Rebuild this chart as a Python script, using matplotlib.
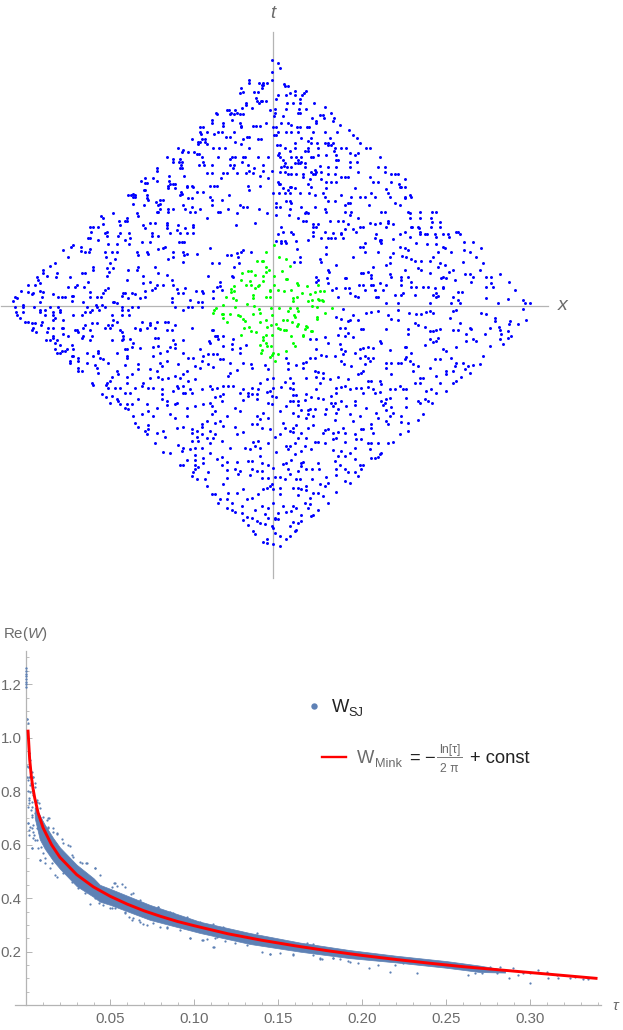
#!/usr/bin/env python3
"""Causal diamond sprinkling (top) and Re(W) against tau (bottom)"""

import numpy as np
import matplotlib
matplotlib.use('Agg')
import matplotlib.pyplot as plt

plt.rcParams['font.family'] = ['Liberation Sans', 'DejaVu Sans']
plt.rcParams['mathtext.fontset'] = 'custom'
plt.rcParams['mathtext.rm'] = 'Liberation Sans'
plt.rcParams['mathtext.it'] = 'Liberation Sans:italic'

W_PX, H_PX = 623, 1030
GRAY_AXIS = '#b4b4b4'
GRAY_TEXT = '#6b6b6b'
DOT_BLUE = '#5e81b5'

# Rows are (height, [positions along the row]), the rest are plain (x, y) pairs.
ul_rows = [(30, [787]), (65, [787]), (90, [718, 787]), (100, [716, 748, 758, 772]), (105, [760, 755]),
           (115, [692, 755]), (125, [698, 732, 743]), (130, [690]), (143, [738]), (152, [742, 752, 755, 767]),
           (160, [708, 748]), (165, [708]), (175, [695, 725]), (180, [650, 658, 675, 780]), (188, [618, 662, 680]),
           (193, [620, 660, 672, 690, 700]), (210, [605, 665]), (218, [605, 690, 768, 640]),
           (228, [640, 692, 728, 738, 750]), (232, [570, 580, 692]), (245, [590, 570, 625, 637, 672]),
           (252, [573, 612]), (262, [648, 660, 718, 712]), (268, [545, 575, 585, 700, 745, 752]),
           (275, [565, 570, 585, 675]), (283, [565, 590, 692]), (295, [505, 610, 628, 645, 718]), (300, [520]),
           (307, [515, 533, 552]), (313, [560, 568]), (320, [470, 575, 625, 665, 675, 700, 705, 745, 775]),
           (327, [488, 510, 660]), (335, [490, 508, 515, 578, 695]), (345, [512, 568, 582, 605, 660, 672, 715, 760]),
           (353, [442, 510, 515, 668, 732]), (363, [440, 718, 760, 785]), (370, [592, 605, 640, 650, 680, 708, 728]),
           (378, [478, 522, 750]), (383, [428, 405, 632, 775]), (392, [392, 442, 478]), (398, [405, 412]),
           (402, [480, 490, 495]), (408, [475, 530, 545, 600, 613, 620, 715, 750]), (412, [530, 548]),
           (415, [475, 495]), (420, [405, 402, 718]), (425, [512, 562, 580]), (432, [515, 370]),
           (435, [362, 355, 375, 410, 510, 658]), (440, [368, 375, 600]), (445, [410, 535, 545]),
           (450, [415, 460, 450, 605, 635]), (455, [438]), (462, [368, 450]), (465, [402, 445, 520, 605, 690]),
           (470, [545, 700, 710]), (478, [450, 490, 475, 525, 570, 655, 748]),
           (485, [440, 445, 475, 555, 540, 630, 625]), (490, [380, 310, 680, 770]), (497, [272, 385]),
           (505, [278, 350, 590]), (512, [345, 350, 328]), (518, [435, 470, 420, 735]), (522, [280]),
           (525, [398, 330, 470, 505, 548, 678]), (530, [250, 265, 240, 550]), (535, [470, 525, 405]), (540, [500]),
           (545, [242, 290]), (550, [285, 330, 358, 425, 480, 510, 530, 550]), (558, [290, 325, 445, 427]),
           (565, [235, 240, 360]), (570, [265, 345]), (575, [395, 420, 508, 515, 522]), (583, [295, 320, 358]),
           (585, [190]), (590, [182, 213, 465]), (595, [460, 600]), (597, [443]), (598, [240]), (600, [700, 160]),
           (603, [212]), (605, [322, 410, 520, 722]), (607, [225, 238, 285, 305, 382, 490, 692]), (610, [680]),
           (612, [415, 530, 560]), (615, [383, 522, 652, 662]), (620, [490, 685]), (622, [175, 288]),
           (628, [315, 475]), (635, [518]), (638, [300, 628, 688]), (640, [135, 605]), (647, [120]),
           (650, [250, 385, 435, 672]), (655, [290, 310]), (660, [98, 250, 355, 380]), (665, [297]),
           (668, [100, 140, 215, 225, 445]), (675, [470]), (678, [112, 290, 398, 593, 665]),
           (680, [80, 138, 180, 668]), (690, [85, 350, 485]), (695, [235, 420, 630]), (698, [90]), (700, [398]),
           (705, [55, 75, 200, 440, 458, 490]), (708, [630]), (710, [175, 222]), (712, [195, 620]),
           (715, [295, 435, 525]), (718, [500]), (720, [285, 425, 635]), (722, [33, 90, 405, 558, 575, 610]),
           (727, [55, 100, 240]), (728, [278, 580]), (730, [70, 345, 365, 505, 520, 340]), (733, [65, 130, 375]),
           (738, [185, 190, 335]), (740, [15, 240, 260]), (742, [95, 145, 155, 165, 272, 405]),
           (745, [20, 355, 390, 485, 610]), (750, [540]), (752, [8, 185]), (755, [90, 220, 312, 565, 575, 310]),
           (757, [485]), (760, [320]), (765, [40, 258, 275])]

ur_rows = [(40, [14]), (55, [22]), (103, [32]), (108, [35, 45]), (122, [66, 100]), (128, [50, 92]),
           (135, [15, 40, 65, 88]), (148, [10, 82]), (158, [42, 60, 80]), (160, [122]), (170, [155]),
           (178, [6, 38, 78, 100]), (190, [173, 5, 75, 82]), (197, [4, 30]), (195, [140, 150]),
           (205, [118, 182, 152]), (212, [128, 180]), (218, [130, 45, 25]), (225, [55, 200]),
           (232, [0, 10, 72, 80, 102, 108]), (240, [228]), (245, [15, 38, 55, 75, 120, 157, 192]),
           (255, [8, 4, 240]), (265, [85, 252, 115, 172]), (272, [105]), (278, [65, 115, 132, 155, 165, 180, 260]),
           (285, [20, 12, 165, 175]), (295, [35, 67, 105, 135, 205, 185, 220, 292, 280]), (302, [50, 95, 105, 183]),
           (308, [17, 232, 255]), (315, [15, 135, 160, 190, 245]), (322, [20, 55, 70, 85, 115, 120, 320]),
           (330, [30, 75, 195, 190]), (335, [85, 252, 232]), (340, [35, 65, 75, 80, 95]), (348, [32, 140]),
           (352, [25, 42, 55, 97, 165, 190, 232, 315, 335]), (360, [125]), (365, [20, 35, 115, 130, 145, 255, 335]),
           (372, [45, 55, 70, 90, 120, 125, 185, 165, 355, 365, 375]), (382, [90, 205, 215, 225, 290]),
           (388, [110, 145, 395]), (395, [15, 160, 175, 190, 300, 315, 355]), (402, [20, 105, 18, 378]),
           (410, [50, 55, 115, 380, 385, 395]), (415, [30, 65, 160, 245]), (418, [340]), (420, [45]),
           (430, [0, 18, 35, 50, 80, 108, 150, 295, 345]), (435, [125, 205, 410]),
           (440, [155, 235, 260, 275, 305, 350, 395, 415]), (445, [395]), (452, [40, 50, 165, 185]),
           (460, [10, 55, 225, 232, 365]), (465, [215, 288, 380]), (470, [20, 10, 85, 125]), (478, [50, 155]),
           (485, [100, 160, 215, 235, 325, 335, 405, 440, 478, 490]), (490, [95, 105, 412]), (495, [48, 10, 232]),
           (505, [75, 255, 410, 440, 475]), (512, [90, 100, 170, 195, 210, 345]), (515, [478, 500]),
           (520, [292, 320, 345]), (522, [120, 135, 225, 360, 305]), (530, [25, 120, 130, 340, 415, 435]),
           (532, [260, 270, 418, 475, 500]), (535, [438]), (538, [215, 240]),
           (545, [30, 55, 120, 155, 250, 395, 440, 550, 555]), (548, [205, 180]),
           (552, [15, 60, 205, 310, 380, 462, 440, 455, 485, 510, 525, 560]), (558, [120]),
           (560, [410, 490, 528]), (565, [145, 165, 175, 185, 305, 210]), (568, [360]), (570, [105, 320, 325]),
           (572, [8, 25, 35, 70, 320]), (575, [572, 600]), (580, [25, 38, 428, 275, 325]), (583, [462, 490]),
           (590, [158, 260, 270, 380, 510]), (595, [395, 515, 625]), (598, [72]), (600, [405, 572]),
           (605, [275, 315, 495, 535, 590]), (610, [360]), (612, [160]), (618, [388]),
           (622, [82, 240, 350, 400, 480, 610]), (628, [415, 140]), (632, [425, 470, 445]),
           (635, [62, 80, 145, 570]), (640, [350, 630, 500]), (645, [340, 515, 190]), (650, [300, 495]),
           (655, [435]), (660, [395, 445, 620, 540, 165]), (665, [285, 528, 168]), (670, [265, 270, 470]),
           (672, [575, 590, 680, 350]), (675, [295]), (680, [355, 385, 405, 130, 600, 638, 655, 510]),
           (685, [295, 162, 215, 220, 520, 505]), (690, [135, 545, 385]), (695, [128, 595, 708, 415]),
           (700, [655, 165, 320]), (705, [258, 270, 295, 300, 340, 385]), (710, [660, 640, 430, 450, 465]),
           (712, [415, 510]), (715, [510, 188, 215, 228, 485]), (720, [725, 178, 275, 305, 330]),
           (725, [568, 555]), (730, [390, 230, 490]), (735, [480, 425, 365, 385]), (738, [495, 245]),
           (740, [255, 315, 195, 490, 540, 310]), (745, [640]), (748, [705]), (750, [750, 555]),
           (758, [755, 675, 535]), (760, [770, 470, 340, 375, 560])]

ll_rows = [(3, [15, 40, 72, 120, 145, 230, 262, 285, 335, 365, 385, 495, 535, 545, 575]),
           (12, [90, 105, 150, 245, 268, 335, 355, 520]), (18, [18, 38, 90, 130, 150, 225, 240]),
           (28, [22, 105, 130, 188, 215, 305, 335, 358]), (35, [135, 30]), (42, [130, 160, 310]),
           (48, [45, 55, 95, 320, 395, 440, 465, 475]), (52, [65, 75, 245, 260, 420]),
           (58, [92, 225, 295, 305, 420, 495]), (65, [70, 115, 130, 155, 160, 220, 285, 300, 375, 410, 435, 545]),
           (72, [65, 195, 200, 240, 330, 390, 485, 470, 605, 610]), (78, [78, 110, 205, 335]), (85, [160]),
           (90, [130, 175, 220, 245, 340, 615, 620]), (97, [130, 215, 445, 435]), (100, [360]),
           (103, [108, 120, 140, 305, 335, 240, 490, 518]), (110, [135, 370]), (117, [150, 185]),
           (122, [365, 430, 480]), (128, [135, 170, 190, 345, 350, 665]), (135, [155, 165, 265]),
           (142, [140, 150, 265, 232, 320]), (150, [185, 190, 250, 350, 430]), (155, [205, 270]), (160, [280]),
           (165, [180, 205]), (172, [180, 232, 295]), (178, [255, 345]), (185, [205, 260]), (188, [385]),
           (195, [205, 215, 320]), (200, [265]), (205, [325, 365]), (212, [305, 350]), (225, [300]),
           (230, [245, 290, 350]), (238, [250, 288]), (245, [295, 315, 330])]
ll_pairs = [(340, 100), (390, 70), (445, 120), (495, 125), (390, 125), (350, 155), (450, 142), (470, 135), (520, 140),
            (535, 155), (550, 155), (570, 130), (580, 150), (595, 145), (610, 145), (620, 145), (630, 160), (640, 160),
            (640, 120), (597, 105), (600, 110), (495, 115), (625, 100), (620, 90), (640, 90), (670, 100), (665, 115),
            (690, 125), (708, 118), (690, 140), (660, 170), (595, 175), (610, 182), (575, 165), (555, 180), (570, 185),
            (450, 170), (455, 180), (470, 165), (505, 175), (520, 205), (510, 215), (530, 195), (535, 225), (555, 220),
            (495, 210), (475, 215), (440, 195), (420, 190), (420, 215), (445, 212), (455, 220), (385, 175), (400, 230),
            (415, 245), (395, 240), (430, 245), (375, 245), (455, 250), (455, 265), (455, 280), (500, 240), (505, 245),
            (490, 255), (520, 240), (540, 250), (545, 262), (575, 250), (600, 240), (605, 250), (620, 245), (640, 240),
            (655, 240), (670, 240), (655, 210), (660, 200), (680, 193), (700, 172), (722, 175), (725, 185), (765, 178),
            (775, 190), (770, 220), (750, 230), (745, 250), (725, 245), (715, 260), (700, 250), (690, 262), (740, 265),
            (770, 258), (780, 255), (785, 270), (775, 290), (785, 295), (725, 265), (715, 270), (740, 278), (305, 270),
            (320, 280), (325, 285), (300, 290), (330, 295), (345, 260), (360, 260), (385, 280), (350, 295), (365, 293),
            (410, 295), (440, 305), (470, 298), (495, 295), (500, 290), (530, 305), (555, 300), (580, 295), (600, 290),
            (605, 300), (615, 272), (630, 270), (640, 265), (635, 285), (520, 262), (525, 262), (470, 285), (480, 325),
            (495, 335), (530, 330), (395, 325), (430, 330), (415, 315), (370, 330), (345, 305), (355, 310), (275, 265),
            (288, 272), (375, 350), (385, 362), (415, 358), (415, 370), (405, 375), (410, 385), (440, 380), (460, 375),
            (465, 392), (435, 410), (458, 438), (480, 440), (505, 418), (518, 425), (515, 435), (500, 365), (520, 362),
            (545, 370), (575, 355), (575, 362), (560, 375), (575, 385), (545, 382), (560, 392), (545, 405), (565, 405),
            (590, 345), (615, 350), (630, 345), (650, 330), (615, 315), (605, 325), (675, 305), (690, 315), (700, 283),
            (740, 330), (760, 320), (750, 340), (775, 335), (725, 355), (742, 355), (780, 370), (755, 365), (700, 378),
            (675, 362), (680, 385), (640, 360), (600, 375), (615, 385), (610, 395), (590, 395), (635, 405), (600, 410),
            (575, 425), (600, 440), (555, 425), (540, 428), (660, 425), (705, 425), (730, 408), (745, 405), (735, 420),
            (775, 410), (750, 425), (720, 430), (555, 448), (530, 462), (555, 462), (580, 455), (580, 470), (510, 478),
            (520, 478), (555, 478), (565, 482), (555, 490), (550, 498), (545, 510), (560, 518), (595, 498), (585, 518),
            (590, 540), (620, 458), (635, 452), (650, 468), (680, 468), (635, 478), (650, 492), (675, 490), (690, 495),
            (685, 505), (650, 515), (715, 465), (725, 465), (750, 450), (755, 470), (775, 478), (725, 490), (740, 495),
            (755, 495), (720, 508), (775, 515), (785, 535), (760, 550), (755, 515), (700, 548), (680, 560), (655, 560),
            (640, 535), (605, 565), (615, 565), (630, 578), (625, 590), (650, 578), (665, 590), (650, 605), (665, 612),
            (675, 618), (695, 600), (710, 580), (725, 575), (745, 565), (770, 545), (780, 540), (755, 600), (775, 605),
            (735, 612), (695, 620), (710, 632), (725, 635), (765, 625), (775, 635), (700, 642), (740, 645), (715, 658),
            (750, 650), (765, 655), (785, 660), (730, 675), (735, 685), (770, 700), (760, 708), (772, 712)]

lr_pairs = [(210, 8), (190, 32), (205, 40), (230, 42), (240, 28), (225, 45), (280, 22), (295, 18), (315, 15), (345, 28),
            (355, 38), (375, 12), (375, 42), (408, 22), (430, 25), (445, 25), (460, 18), (470, 15), (480, 20), (530, 35),
            (540, 15), (550, 12), (560, 50), (625, 22), (640, 25), (665, 35), (665, 45), (710, 45), (708, 55), (735, 55),
            (760, 42), (750, 8), (200, 65), (215, 65), (225, 80), (255, 42), (265, 68), (270, 70), (340, 70), (405, 68),
            (425, 50), (435, 58), (455, 62), (470, 75), (480, 75), (490, 72), (500, 68), (540, 72), (555, 72), (590, 65),
            (595, 70), (650, 65), (678, 62), (680, 72), (685, 85), (705, 75), (715, 90), (705, 95), (680, 100), (690, 115),
            (635, 85), (580, 85), (600, 100), (610, 105), (580, 105), (470, 100), (480, 108), (490, 105), (495, 95),
            (405, 85), (320, 105), (325, 110), (195, 88), (215, 90), (240, 92), (165, 112), (155, 92), (130, 100), (110, 100),
            (200, 115), (205, 128), (215, 135), (210, 145), (205, 165), (212, 175), (245, 142), (260, 130), (270, 125),
            (285, 122), (300, 125), (260, 155), (275, 150), (285, 155), (290, 165), (300, 155), (350, 132), (395, 122),
            (400, 122), (455, 118), (415, 140), (400, 152), (395, 158), (375, 172), (340, 170), (355, 172), (340, 185),
            (355, 205), (385, 172), (410, 165), (420, 175), (435, 180), (420, 195), (485, 160), (500, 158), (510, 130),
            (520, 135), (550, 122), (535, 155), (550, 170), (545, 180), (570, 172), (585, 180), (600, 178), (620, 175),
            (590, 200), (575, 190), (630, 150), (650, 120), (520, 195), (520, 205), (540, 195), (565, 212), (540, 232),
            (550, 225), (488, 210), (470, 185), (275, 175), (270, 195), (265, 200), (255, 205), (235, 180), (185, 150),
            (160, 150), (145, 148), (130, 130), (125, 155), (110, 155), (100, 168), (90, 172), (90, 185), (70, 178), (45, 170),
            (45, 188), (38, 155), (135, 198), (150, 200), (130, 212), (150, 215), (125, 195), (100, 215), (172, 220), (195, 212),
            (225, 218), (50, 215), (35, 228), (0, 215), (25, 242), (60, 232), (50, 245), (60, 248), (140, 230), (130, 250),
            (100, 265), (115, 272), (135, 275), (150, 278), (175, 270), (190, 262), (190, 245), (205, 242), (215, 240), (232, 248),
            (250, 245), (265, 245), (270, 262), (285, 225), (295, 225), (285, 243), (300, 250), (320, 225), (325, 235), (305, 260),
            (320, 258), (350, 248), (365, 248), (380, 240), (390, 250), (400, 248), (440, 215), (450, 215), (425, 232), (440, 232),
            (460, 255), (475, 250), (490, 260), (500, 232), (520, 255), (350, 275), (340, 280), (325, 285), (335, 292), (400, 275),
            (435, 285), (440, 292), (455, 280), (465, 285), (478, 292), (0, 245), (8, 272), (60, 268), (70, 268), (50, 285),
            (60, 285), (75, 285), (95, 283), (75, 298), (40, 300), (175, 290), (185, 292), (180, 300), (205, 285), (220, 300),
            (245, 298), (245, 285), (195, 310), (190, 320), (160, 310), (155, 325), (125, 310), (105, 312), (110, 310), (105, 325),
            (100, 335), (85, 312), (60, 320), (75, 330), (22, 315), (120, 330), (185, 342), (260, 330), (230, 325), (240, 345),
            (280, 305), (310, 320), (330, 298), (355, 302), (340, 312), (360, 322), (350, 330), (385, 330), (400, 302), (385, 348),
            (405, 352), (450, 325), (435, 342), (340, 345), (345, 355), (315, 335), (295, 355), (295, 365), (265, 368), (300, 380),
            (270, 370), (210, 365), (245, 385), (215, 380), (195, 378), (180, 380), (155, 372), (165, 370), (150, 380), (120, 358),
            (105, 365), (30, 350), (35, 365), (60, 365), (70, 358), (50, 375), (60, 378), (20, 385), (5, 392), (85, 382), (100, 395),
            (75, 395), (65, 410), (50, 420), (40, 420), (125, 408), (135, 408), (155, 410), (180, 400), (190, 395), (215, 408),
            (250, 400), (265, 400), (285, 410), (295, 410), (315, 410), (345, 412), (360, 408), (380, 385), (405, 375), (95, 420),
            (85, 435), (65, 445), (45, 430), (10, 438), (115, 430), (180, 432), (205, 435), (195, 450), (230, 442), (245, 425),
            (215, 450), (245, 458), (295, 455), (305, 455), (320, 445), (325, 440), (315, 452), (290, 430), (55, 462), (40, 470),
            (30, 475), (85, 470), (90, 468), (185, 465), (190, 490), (200, 478), (215, 490), (225, 498), (245, 498), (260, 478),
            (270, 478), (265, 490), (255, 510), (0, 485), (45, 490), (85, 480), (100, 490), (118, 488), (138, 490), (135, 470),
            (75, 495), (5, 513), (20, 513), (35, 520), (50, 505), (70, 520), (80, 518), (118, 518), (158, 512), (190, 508),
            (215, 525), (232, 530), (165, 530), (140, 535), (155, 540), (190, 558), (60, 545), (75, 545), (100, 540), (85, 550),
            (100, 552), (120, 560), (135, 560), (150, 570), (75, 568), (22, 565), (0, 550), (22, 545), (110, 575), (165, 592),
            (30, 600), (70, 605), (95, 590), (110, 595), (105, 605), (135, 612), (0, 590), (60, 600), (15, 620), (40, 618),
            (55, 615), (85, 628), (115, 630), (120, 628), (15, 640), (5, 640), (50, 660), (60, 648), (75, 650), (85, 645),
            (65, 675), (70, 672), (0, 665), (5, 680), (20, 690), (38, 700), (50, 690), (0, 715), (22, 720), (5, 635)]

# green points near the centre
green_x = [282, 258, 297, 318, 230, 245, 250, 258, 268, 305, 330, 186, 205, 212, 258, 226, 250, 282, 318, 322,
           182, 210, 250, 198, 213, 238, 282, 352, 380, 415, 355, 152, 163, 225, 233, 270, 295, 312, 332, 152,
           163, 218, 270, 365, 390, 405, 420, 432, 138, 160, 168, 220, 258, 270, 340, 352, 385, 395, 415, 425,
           428, 418, 202, 222, 340, 108, 128, 165, 102, 98, 125, 130, 130, 150, 175, 180, 142, 190, 195, 238,
           240, 218, 272, 298, 275, 330, 352, 355, 325, 310, 320, 342, 345, 395, 412, 456, 410, 412, 435, 192,
           207, 213, 228, 258, 262, 240, 272, 288, 295, 300, 313, 318, 335, 355, 352, 378, 382, 375, 395, 368,
           370, 392, 182, 250, 250, 258, 275, 258, 260, 240, 332, 338, 345, 272, 245, 243, 280, 295, 275, 318,
           270, 285]
green_t = [75, 97, 113, 117, 125, 125, 125, 143, 150, 153, 140, 160, 155, 155, 157, 165, 170, 170, 177, 177,
           180, 185, 185, 197, 197, 197, 197, 190, 200, 197, 197, 208, 200, 205, 200, 210, 210, 215, 210, 216,
           215, 225, 213, 220, 222, 217, 215, 215, 233, 235, 242, 235, 232, 232, 235, 233, 243, 240, 238, 240,
           243, 242, 252, 258, 245, 265, 255, 262, 272, 280, 283, 283, 295, 283, 285, 290, 307, 297, 305, 268,
           280, 283, 265, 265, 287, 265, 265, 275, 275, 300, 300, 285, 292, 260, 263, 264, 292, 298, 280, 325,
           322, 335, 337, 300, 322, 308, 315, 312, 325, 328, 330, 332, 308, 312, 320, 320, 322, 328, 335, 345,
           350, 335, 347, 352, 360, 345, 345, 370, 378, 375, 350, 370, 380, 378, 390, 400, 400, 403, 405, 395,
           412, 425]

# dense band of the lower plot: upper and lower edge
band_tau = [0.005, 0.008, 0.011, 0.016, 0.02, 0.03, 0.04, 0.0438, 0.05, 0.0736, 0.1034, 0.133, 0.163, 0.1926, 0.22,
            0.25, 0.27, 0.285]
band_hi = [0.74, 0.71, 0.675, 0.625, 0.59, 0.525, 0.475, 0.45, 0.435, 0.375, 0.312, 0.27, 0.234, 0.206, 0.185,
           0.165, 0.148, 0.132]
band_lo = [0.70, 0.62, 0.585, 0.54, 0.51, 0.445, 0.405, 0.387, 0.375, 0.319, 0.27, 0.229, 0.2, 0.176, 0.16,
           0.14, 0.124, 0.122]

stray_a = [(82, 297), (84, 310), (88, 400), (90, 420), (85, 440), (95, 455), (100, 470), (88, 470), (92, 490), (85, 480),
           (98, 510), (105, 490), (90, 515), (100, 520), (88, 540), (95, 545), (110, 545), (118, 550), (85, 560), (92, 570),
           (105, 580), (95, 590), (115, 600), (85, 610), (100, 615), (88, 630), (90, 620), (102, 645), (100, 655), (95, 685),
           (110, 660), (122, 680), (128, 700), (120, 720), (135, 715), (150, 745), (165, 765), (170, 770), (190, 760),
           (215, 785), (235, 805), (255, 820), (270, 853), (285, 835), (298, 850), (335, 865), (375, 880), (395, 900),
           (420, 905), (440, 915), (500, 925), (570, 955), (640, 980), (608, 960), (650, 950), (810, 1003), (880, 1005),
           (960, 1015), (130, 640), (140, 600), (148, 595), (145, 625), (160, 625), (170, 640), (190, 670), (205, 675),
           (215, 705), (240, 725), (258, 730), (285, 745), (300, 765), (345, 790), (375, 800), (400, 820), (475, 860),
           (520, 880), (600, 905)]
stray_b = [(208, 865), (270, 875), (352, 878), (690, 910), (505, 885), (628, 893), (745, 893), (715, 870), (740, 875),
           (770, 885), (810, 893), (850, 897), (865, 897), (825, 890), (775, 893), (655, 885), (600, 860), (570, 862),
           (545, 880), (525, 880), (590, 880), (640, 865), (670, 880), (690, 880), (60, 838), (100, 835), (150, 845),
           (175, 848), (235, 855), (285, 855), (310, 850)]
stray_c = [(22, 57), (22, 197), (28, 160), (38, 232), (22, 232), (30, 255), (25, 272), (45, 262), (40, 285), (50, 300),
           (28, 295), (28, 310), (35, 320), (60, 325), (70, 350), (85, 355), (35, 345), (25, 370), (35, 385), (50, 385),
           (28, 405), (40, 395), (45, 420), (35, 445), (55, 445), (150, 437), (125, 418), (110, 402), (100, 395), (85, 380),
           (60, 480), (75, 490), (95, 490), (160, 470), (185, 490), (200, 490), (225, 505)]
stray_d = [(42, 40), (65, 42), (50, 48), (35, 50), (92, 72), (120, 90), (175, 110), (210, 125), (260, 140), (338, 162),
           (370, 172), (472, 190), (620, 218), (640, 222), (10, 105), (30, 115), (45, 115), (75, 125), (88, 140), (100, 145),
           (118, 150), (130, 162), (160, 158), (180, 172), (200, 170), (240, 180), (270, 205), (305, 210), (322, 208),
           (342, 230), (345, 205), (375, 212), (405, 220), (440, 225), (485, 245), (510, 253), (540, 248), (580, 252),
           (640, 255), (665, 268), (700, 265), (720, 268), (745, 272)]
axis_stack_w = [1.19, 1.20, 1.21, 1.22, 1.23, 1.24, 1.25, 1.26]

# Minkowski curve
mink_tau = [0.001, 0.002, 0.003, 0.004, 0.005, 0.007, 0.01, 0.015, 0.02, 0.03, 0.04, 0.05, 0.06, 0.07, 0.08, 0.09,
            0.10, 0.12, 0.14, 0.16, 0.18, 0.20, 0.22, 0.24, 0.26, 0.28, 0.30, 0.32, 0.34]
mink_w = [1.03, 0.92, 0.855, 0.81, 0.775, 0.72, 0.663, 0.60, 0.553, 0.488, 0.442, 0.407, 0.378, 0.353, 0.332, 0.313,
          0.297, 0.267, 0.243, 0.222, 0.203, 0.186, 0.171, 0.157, 0.144, 0.133, 0.122, 0.111, 0.10]

x_tick_vals = [0.05, 0.10, 0.15, 0.20, 0.25, 0.30]
y_tick_vals = [0.2, 0.4, 0.6, 0.8, 1.0, 1.2]
x_minor_vals = [0.01, 0.02, 0.03, 0.04, 0.06, 0.07, 0.08, 0.09, 0.11, 0.12, 0.13, 0.14, 0.16, 0.17, 0.18, 0.19,
                0.21, 0.22, 0.23, 0.24, 0.26, 0.27, 0.28, 0.29, 0.31, 0.32, 0.33, 0.34]
y_minor_vals = [0.05, 0.10, 0.15, 0.25, 0.30, 0.35, 0.45, 0.50, 0.55, 0.65, 0.70, 0.75, 0.85, 0.90, 0.95,
                1.05, 1.10, 1.15, 1.25, 1.30]


def from_rows(rows):
    xx, yy = [], []
    for row, vals in rows:
        xx.extend(vals)
        yy.extend([row] * len(vals))
    return np.array(xx, dtype=float), np.array(yy, dtype=float)


def from_pairs(pairs):
    arr = np.array(pairs, dtype=float)
    return arr[:, 0], arr[:, 1]


def crop_to_px(xz, yz, x0, y0):
    """Crop reading to offsets from the origin of the top panel"""
    return x0 + xz / 3 - 273.3, 306 - (y0 + yz / 3)


def fig_text(x, y, s, **kwargs):
    """Text placed by picture pixels"""
    fig.text(x / W_PX, 1 - y / H_PX, s, **kwargs)


fig = plt.figure(figsize=(W_PX / 100, H_PX / 100), dpi=100)

# ---- top panel, one data unit is one pixel
ax = fig.add_axes([0, 1 - 590 / H_PX, 1, 590 / H_PX])
ax.set_xlim(-273.3, W_PX - 273.3)
ax.set_ylim(306 - 590, 306)

parts = [
    crop_to_px(*from_rows(ul_rows), 10, 50),
    crop_to_px(*from_rows(ur_rows), 273, 50),
    crop_to_px(*from_rows(ll_rows), 10, 306),
    crop_to_px(*from_pairs(ll_pairs), 10, 306),
    crop_to_px(*from_pairs(lr_pairs), 273, 306),
]
x_blue = np.concatenate([p[0] for p in parts])
t_blue = np.concatenate([p[1] for p in parts])
x_green = (np.array(green_x) - 280) / 3
t_green = (259 - np.array(green_t)) / 3

ax.scatter(x_blue, t_blue, s=4.6, color='#0000ff', linewidths=0, zorder=3)
ax.scatter(x_green, t_green, s=4.6, color='#00ff00', linewidths=0, zorder=3)

ax.set_xticks([])
ax.set_yticks([])
for side in ['top', 'right']:
    ax.spines[side].set_visible(False)
for side in ['left', 'bottom']:
    ax.spines[side].set_position(('data', 0))
    ax.spines[side].set_color(GRAY_AXIS)
    ax.spines[side].set_linewidth(0.9)
ax.spines['left'].set_bounds(-272, 274)
ax.spines['bottom'].set_bounds(-272.5, 274.5)
ax.patch.set_alpha(0)

fig_text(273, 13, 't', fontsize=13.5, style='italic', color=GRAY_TEXT, ha='center', va='center')
fig_text(563, 306, 'x', fontsize=14, style='italic', color=GRAY_TEXT, ha='center', va='center')

# ---- bottom panel
ax2 = fig.add_axes([0, 0, 1, 440 / H_PX])
ax2.set_xlim(-26.3 / 1680, (W_PX - 26.3) / 1680)
ax2.set_ylim(-(H_PX - 1005.2) / 267.5, (1005.2 - 590) / 267.5)
ax2.patch.set_alpha(0)

ax2.fill_between(band_tau, band_lo, band_hi, color=DOT_BLUE, linewidth=0.5, zorder=2)

xa, ya = from_pairs(stray_a)
xb, yb = from_pairs(stray_b)
xc, yc = from_pairs(stray_c)
xd, yd = from_pairs(stray_d)
tau_stray = np.concatenate([(xa - 79) / 5040, 0.2 + (xb - 187) / 5040, (xc - 18.9) / 5040, (221.1 + xd) / 5040])
w_stray = np.concatenate([(1155.6 - ya) / 802.5, (975.6 - yb) / 802.5, (915.6 - yc) / 802.5, (405.6 - yd) / 802.5])
ax2.scatter(tau_stray, w_stray, s=2.6, color=DOT_BLUE, linewidths=0, zorder=2)
ax2.scatter([0.0] * len(axis_stack_w), axis_stack_w, s=3.0, color=DOT_BLUE, linewidths=0, zorder=4)
ax2.plot(mink_tau, mink_w, color='#ff0000', linewidth=2.1, zorder=5, solid_capstyle='butt')

for side in ['top', 'right']:
    ax2.spines[side].set_visible(False)
for side in ['left', 'bottom']:
    ax2.spines[side].set_position(('data', 0))
    ax2.spines[side].set_color(GRAY_AXIS)
    ax2.spines[side].set_linewidth(0.9)
ax2.spines['left'].set_bounds(0, 1.325)
ax2.spines['bottom'].set_bounds(-0.0068, 0.342)

ax2.set_xticks(x_tick_vals)
ax2.set_xticklabels(['%.2f' % v for v in x_tick_vals])
ax2.set_yticks(y_tick_vals)
ax2.set_yticklabels(['%.1f' % v for v in y_tick_vals])
ax2.set_xticks(x_minor_vals, minor=True)
ax2.set_yticks(y_minor_vals, minor=True)
ax2.tick_params(axis='both', which='major', direction='in', length=4.0, width=0.7, color=GRAY_AXIS,
                labelsize=10.8, labelcolor=GRAY_TEXT)
ax2.tick_params(axis='both', which='minor', direction='in', length=2.2, width=0.6, color=GRAY_AXIS)
ax2.tick_params(axis='x', which='major', pad=5)
ax2.tick_params(axis='y', which='major', pad=3.5)

fig_text(3, 634, r'Re($\mathit{W}$)', fontsize=10.8, color=GRAY_TEXT, ha='left', va='center')
fig_text(615, 1006, '\u03c4', fontsize=11, style='italic', color=GRAY_TEXT, ha='center', va='center')

# ---- legend, pieces of text put together by hand
dot_x = (314.3 - 26.3) / 1680
dot_y = (1005.2 - 705.8) / 267.5
ax2.plot([dot_x], [dot_y], 'o', color=DOT_BLUE, markersize=4.6, markeredgewidth=0, zorder=6)
line_tau = [(321.7 - 26.3) / 1680, (346.3 - 26.3) / 1680]
line_w = (1005.2 - 757.3) / 267.5
ax2.plot(line_tau, [line_w, line_w], color='#ff0000', linewidth=1.7, zorder=6)

fig_text(331.5, 712, 'W', fontsize=13.2, color='#222222', ha='left', va='baseline')
fig_text(348.3, 716, 'SJ', fontsize=9.2, color='#222222', ha='left', va='baseline')
fig_text(357.3, 763, 'W', fontsize=13.2, color=GRAY_TEXT, ha='left', va='baseline')
fig_text(374.7, 766.7, 'Mink', fontsize=9.2, color=GRAY_TEXT, ha='left', va='baseline')
fig_text(409.5, 763, '=', fontsize=13.2, color='#222222', ha='left', va='baseline')
fig_text(424.5, 763, '\u2212', fontsize=13.2, color='#222222', ha='left', va='baseline')
fig_text(449.5, 750.5, 'ln[\u03c4]', fontsize=8.8, color=GRAY_TEXT, ha='center', va='center')
fig_text(449.5, 768.5, '2 \u03c0', fontsize=8.8, color=GRAY_TEXT, ha='center', va='center')
bar_tau = [(437.3 - 26.3) / 1680, (461.7 - 26.3) / 1680]
ax2.plot(bar_tau, [line_w, line_w], color='#777777', linewidth=0.7, zorder=6)
fig_text(470, 763, '+ const', fontsize=13.2, color='#222222', ha='left', va='baseline')

fig.savefig('out.png', dpi=100)
